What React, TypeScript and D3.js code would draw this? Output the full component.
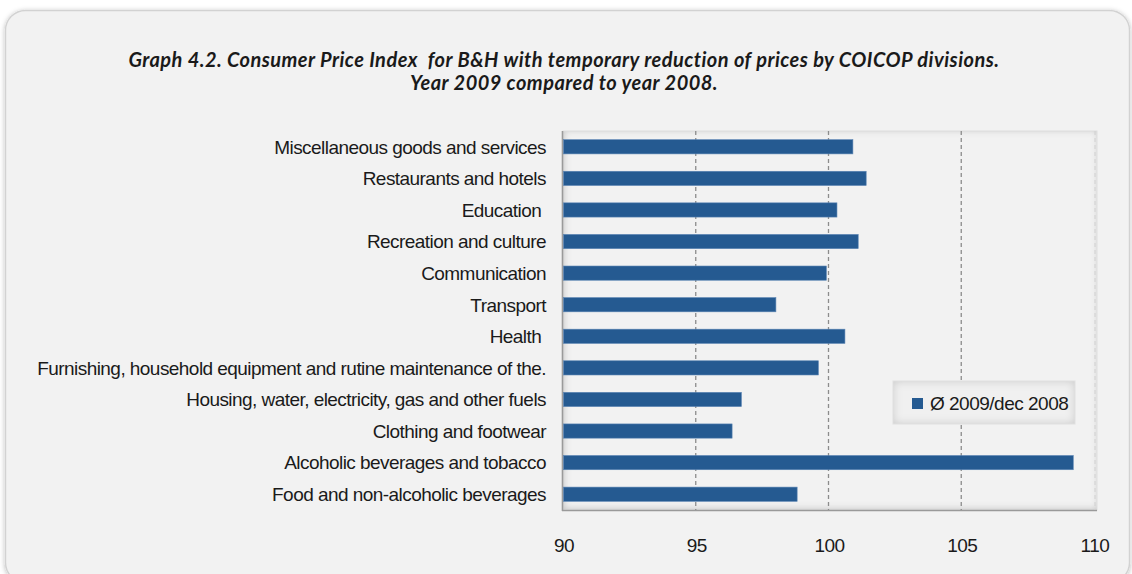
import React, { useEffect } from "react";
import * as d3 from "d3";

const categories = [
  "Miscellaneous goods and services",
  "Restaurants and hotels",
  "Education ",
  "Recreation and culture",
  "Communication",
  "Transport",
  "Health ",
  "Furnishing, household equipment and rutine maintenance of the.",
  "Housing, water, electricity, gas and other fuels",
  "Clothing and footwear",
  "Alcoholic beverages and tobacco",
  "Food and non-alcoholic beverages",
];
const values = [100.9, 101.4, 100.3, 101.1, 99.9, 98.0, 100.6, 99.6, 96.7, 96.35, 109.2, 98.8];
const xTicks = [90, 95, 100, 105, 110];
const gridTicks = [95, 100, 105];
const seriesName = "Ø 2009/dec 2008";
const titleLines = [
  "Graph 4.2. Consumer Price Index  for B&H with temporary reduction of prices by COICOP divisions.",
  "Year 2009 compared to year 2008.",
];

const W = 1132;
const H = 574;
const plot = { left: 563, right: 1094, top: 131, bottom: 510 };
const labelFont = "'Liberation Sans', Arial, sans-serif";
const titleFont = "Lato, 'Open Sans', sans-serif";
const barColor = "#255a91";
const textColor = "#1a1a1a";

export default function App() {
  useEffect(() => {
    document.body.style.margin = "0";
  }, []);

  const x = d3.scaleLinear().domain([90, 110]).range([plot.left, plot.right]);
  const y = d3
    .scaleBand<string>()
    .domain(categories)
    .range([plot.top, plot.bottom])
    .paddingInner(0.55)
    .paddingOuter(0.275);

  return (
    <svg width={W} height={H} style={{ display: "block", background: "#ffffff" }}>
      <defs>
        <filter id="outerShadow" x="-5%" y="-5%" width="110%" height="110%">
          <feGaussianBlur in="SourceAlpha" stdDeviation="2.5" />
          <feOffset dx="0" dy="1" result="b" />
          <feFlood floodColor="#000" floodOpacity="0.28" />
          <feComposite in2="b" operator="in" />
          <feMerge>
            <feMergeNode />
            <feMergeNode in="SourceGraphic" />
          </feMerge>
        </filter>
        <filter id="inset" x="-10%" y="-10%" width="120%" height="120%">
          <feFlood floodColor="#000" floodOpacity="0.4" result="f" />
          <feComposite in="f" in2="SourceAlpha" operator="out" result="o" />
          <feGaussianBlur in="o" stdDeviation="3.5" result="bl" />
          <feOffset in="bl" dx="1" dy="-1" result="off" />
          <feComposite in="off" in2="SourceAlpha" operator="in" result="sh" />
          <feMerge>
            <feMergeNode in="SourceGraphic" />
            <feMergeNode in="sh" />
          </feMerge>
        </filter>
        <filter id="legendInset" x="-30%" y="-60%" width="160%" height="220%">
          <feFlood floodColor="#000" floodOpacity="0.35" result="f" />
          <feComposite in="f" in2="SourceAlpha" operator="out" result="o" />
          <feGaussianBlur in="o" stdDeviation="5" result="bl" />
          <feComposite in="bl" in2="SourceAlpha" operator="in" result="sh" />
          <feMerge>
            <feMergeNode in="SourceGraphic" />
            <feMergeNode in="sh" />
          </feMerge>
        </filter>
      </defs>

      {/* chart background */}
      <rect
        x={5.5}
        y={10.5}
        width={1124}
        height={572}
        rx={20}
        fill="#f2f2f2"
        stroke="#d2d2d2"
        strokeWidth={1.4}
        filter="url(#outerShadow)"
      />

      {/* title */}
      {titleLines.map((t, i) => (
        <text
          key={i}
          x={564}
          y={66.5 + i * 23.5}
          textAnchor="middle"
          fontFamily={titleFont}
          fontWeight="bold"
          fontStyle="italic"
          fontSize={20}
          letterSpacing={0.45}
          fill={textColor}
          style={{ whiteSpace: "pre" }}
        >
          {t}
        </text>
      ))}

      {/* plot area */}
      <rect
        x={plot.left}
        y={plot.top}
        width={plot.right - plot.left + 3}
        height={plot.bottom - plot.top}
        fill="#f2f2f2"
        filter="url(#inset)"
      />
      <rect
        x={plot.left}
        y={plot.top}
        width={plot.right - plot.left + 3}
        height={plot.bottom - plot.top}
        fill="none"
        stroke="#dedede"
        strokeWidth={1}
      />
      <line x1={plot.left - 0.5} x2={plot.left - 0.5} y1={plot.top} y2={plot.bottom + 1} stroke="#9a9a9a" strokeWidth={1.6} />
      <line x1={plot.left - 1} x2={plot.right + 3} y1={plot.bottom + 0.5} y2={plot.bottom + 0.5} stroke="#9a9a9a" strokeWidth={1.6} />

      {/* gridlines */}
      {gridTicks.map((t) => (
        <line
          key={t}
          x1={x(t)}
          x2={x(t)}
          y1={plot.top}
          y2={plot.bottom}
          stroke="#8c8c8c"
          strokeWidth={1.3}
          strokeDasharray="4,3"
        />
      ))}
      <line
        x1={x(110) + 1}
        x2={x(110) + 1}
        y1={plot.top}
        y2={plot.bottom}
        stroke="#d0d0d0"
        strokeWidth={1}
        strokeDasharray="4,3"
      />

      {/* bars */}
      {categories.map((c, i) => (
        <rect
          key={c}
          x={x(90) + 0.5}
          y={y(c)!}
          width={x(values[i]) - x(90)}
          height={y.bandwidth()}
          fill={barColor}
          stroke="#5a84b3"
          strokeWidth={0.6}
        />
      ))}

      {/* category labels */}
      {categories.map((c) => (
        <text
          key={c}
          x={546}
          y={y(c)! + y.bandwidth() / 2}
          dy="0.36em"
          textAnchor="end"
          fontFamily={labelFont}
          fontSize={19}
          letterSpacing={-0.55}
          fill={textColor}
          style={{ whiteSpace: "pre" }}
        >
          {c}
        </text>
      ))}

      {/* x tick labels */}
      {xTicks.map((t) => (
        <text
          key={t}
          x={x(t) + 1}
          y={552}
          textAnchor="middle"
          fontFamily={labelFont}
          fontSize={19}
          letterSpacing={-0.5}
          fill={textColor}
        >
          {t}
        </text>
      ))}

      {/* legend */}
      <rect x={893} y={381} width={182} height={43} fill="#f0f0f0" filter="url(#legendInset)" />
      <rect x={893} y={381} width={182} height={43} fill="none" stroke="#e0e0e0" strokeWidth={1} />
      <rect x={912} y={398} width={11} height={11} fill={barColor} />
      <text x={930} y={410} fontFamily={labelFont} fontSize={19} letterSpacing={-0.5} fill={textColor}>
        {seriesName}
      </text>
    </svg>
  );
}
